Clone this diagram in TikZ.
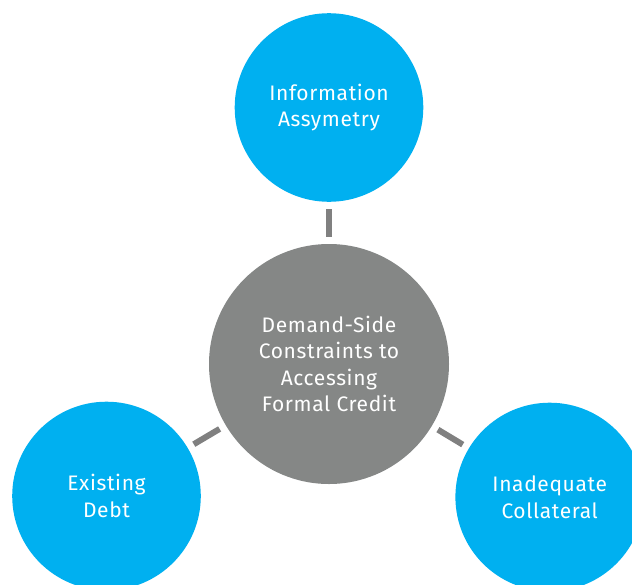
\documentclass[tikz,border=0pt]{standalone}
\usepackage{fontspec}
\setmainfont[LetterSpace=3]{Fira Sans}
\definecolor{bubble}{RGB}{0,176,240}
\definecolor{hub}{RGB}{133,135,134}
\definecolor{link}{RGB}{128,128,128}
\tikzset{
  outer/.style={circle, fill=bubble, minimum size=188.6pt, inner sep=0pt, text=white, align=center, font=\fontsize{21}{26.5}\selectfont},
  hubnode/.style={circle, fill=hub, minimum size=240pt, inner sep=0pt, text=white, align=center, font=\fontsize{21}{26.5}\selectfont},
  conn/.style={draw=link, line width=6pt, shorten >=7pt, shorten <=7pt}
}
\begin{document}
\begin{tikzpicture}[x=1pt,y=-1pt]
\useasboundingbox (0,0) rectangle (632,584);
\clip (0,0) rectangle (632,584);
\fill[white] (0,0) rectangle (632,584);
\node[hubnode] (hub) at (329,364) {Demand-Side\\Constraints to\\Accessing\\Formal Credit};
\node[outer] (info) at (329,107.5) {Information\\Assymetry};
\node[outer] (debt) at (106.5,496) {Existing\\Debt};
\node[outer] (coll) at (549.7,497) {Inadequate\\Collateral};
\draw[conn] (info) -- (hub);
\draw[conn] (debt) -- (hub);
\draw[conn] (coll) -- (hub);
\end{tikzpicture}
\end{document}
